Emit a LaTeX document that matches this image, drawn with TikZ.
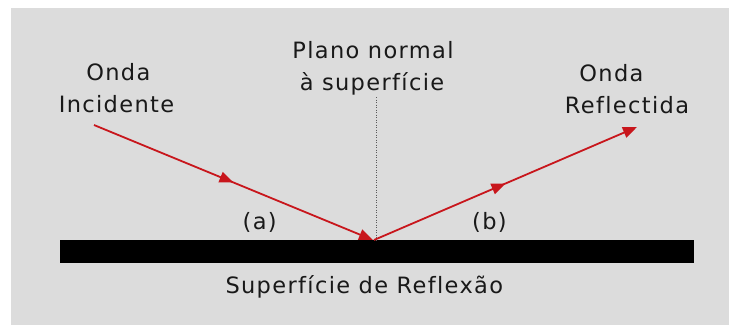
\documentclass[tikz,border=0pt]{standalone}
\usepackage{fontspec}
\setmainfont{DejaVu Sans}[LetterSpace=6, Ligatures={NoCommon}]
\usetikzlibrary{arrows.meta,decorations.markings}
\definecolor{bg}{RGB}{220,220,220}
\definecolor{ray}{RGB}{200,22,28}
\definecolor{txt}{RGB}{25,25,25}
\definecolor{dots}{RGB}{90,90,90}
\begin{document}
\begin{tikzpicture}[x=1pt,y=-1pt,
  lbl/.style={font=\fontsize{22.5}{27}\selectfont, text=txt, inner sep=0pt, anchor=base},
  rayline/.style={draw=ray, line width=1.8pt,
    -{Triangle[length=14pt,width=11pt,color=ray]},
    postaction={decorate},
    decoration={markings, mark=at position 0.5 with {\arrow{Triangle[length=14pt,width=11pt,color=ray]}}}},
  normline/.style={draw=dots, line width=0.8pt, dash pattern=on 1pt off 1.5pt},
  surfbar/.style={fill=black, minimum width=634.5pt, minimum height=23pt, inner sep=0pt}
]
\useasboundingbox (0,0) rectangle (729,325);
\fill[white] (0,0) rectangle (729,325);
\fill[bg] (11,8) rectangle (729,325);

% surface
\node[surfbar] (bar) at (376.75,251.5) {};

% labels
\node[lbl] (ondaIn) at (118.3,80) {Onda};
\node[lbl] (incid) at (116.5,112.5) {Incidente};
\node[lbl] (plano) at (373,58.3) {Plano normal};
\node[lbl] (asup) at (372,90) {à superfície};
\node[lbl] (ondaOut) at (611.5,81.5) {Onda};
\node[lbl] (refl) at (627,113.3) {Reflectida};
\node[lbl] (la) at (259.7,229.5) {(a)};
\node[lbl] (lb) at (489.5,229.5) {(b)};
\node[lbl] (surf) at (364.3,293.3) {Superfície de Reflexão};

% geometry points
\coordinate (inStart) at (94,125);
\coordinate (hit) at (373,240);
\coordinate (outStart) at (374,240);
\coordinate (outEnd) at (637,127);
\coordinate (normTop) at (376.5,97);
\coordinate (normBot) at (376.5,240);

% normal plane
\draw[normline] (normTop) -- (normBot);

% rays
\draw[rayline] (inStart) -- (hit);
\draw[rayline] (outStart) -- (outEnd);
\end{tikzpicture}
\end{document}
